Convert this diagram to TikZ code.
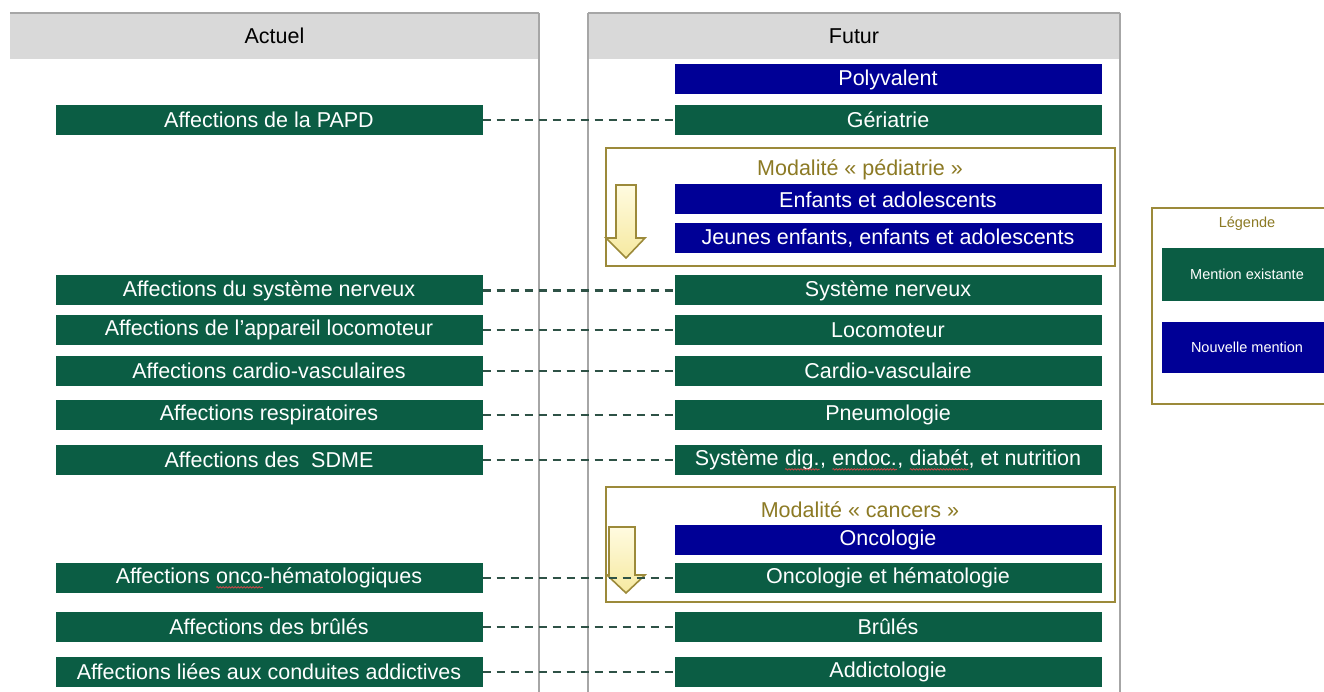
\documentclass[tikz,border=0pt]{standalone}
\usepackage{fontspec}
\setmainfont{Liberation Sans}
\usetikzlibrary{decorations.pathmorphing}
\definecolor{mgreen}{HTML}{0B5D44}
\definecolor{mblue}{HTML}{000096}
\definecolor{hgray}{HTML}{D9D9D9}
\definecolor{lgray}{HTML}{A6A6A6}
\definecolor{modolive}{HTML}{9C8A3A}
\definecolor{modtext}{HTML}{8C7A24}
\definecolor{dashc}{HTML}{2E5246}
\definecolor{arrtop}{HTML}{FFFBE0}
\definecolor{arrbot}{HTML}{F6E9A0}
\definecolor{squigc}{HTML}{C84848}
\newcommand\squig[1]{\tikz[baseline=(w.base)]{\node[inner sep=0pt,outer sep=0pt,minimum width=0pt,minimum height=0pt,fill=none,draw=none,text=white] (w) {#1};\draw[squigc,line width=0.8pt,decorate,decoration={snake,amplitude=0.7pt,segment length=3pt}] ([yshift=-4pt]w.base west) -- ([yshift=-4pt]w.base east);}}
\tikzset{
  mbox/.style={minimum width=427pt,minimum height=30pt,inner sep=0pt,outer sep=0pt,text=white,font=\fontsize{21.5}{24}\selectfont},
  gbox/.style={mbox,fill=mgreen},
  bbox/.style={mbox,fill=mblue},
  header/.style={fill=hgray,minimum height=46pt,inner sep=0pt,outer sep=0pt,font=\fontsize{21.5}{24}\selectfont,text=black},
  vline/.style={lgray,line width=1.5pt},
  modframe/.style={draw=modolive,line width=2pt},
  modlabel/.style={text=modtext,font=\fontsize{21.5}{24}\selectfont,inner sep=0pt},
  downarrow/.style={draw=modolive,line width=1.6pt,top color=arrtop,bottom color=arrbot,line join=miter},
  link/.style={dashc,line width=2.4pt,dash pattern=on 8pt off 6pt},
  legtext/.style={font=\fontsize{14.5}{17}\selectfont,text=white,inner sep=0pt},
}
\begin{document}
\begin{tikzpicture}[x=1pt,y=-1pt]
\useasboundingbox (0,0) rectangle (1324,692);
\clip (0,0) rectangle (1324,692);
\fill[white] (0,0) rectangle (1324,692);
% headers
\node[header,minimum width=529pt] (hA) at (274.5,36) {Actuel};
\node[header,minimum width=532pt] (hF) at (854,36) {Futur};
\draw[lgray,line width=1.5pt] (hA.north west) -- (hA.north east);
\draw[lgray,line width=1.5pt] (hF.north west) -- (hF.north east);
\draw[vline] (hA.north east) -- (539,692);
\draw[vline] (hF.north west) -- (588,692);
\draw[vline] (hF.north east) -- (1120,692);
% modality frames
\draw[modframe] (606,148) rectangle (1115,266);
\draw[modframe] (606,487) rectangle (1115,602);
\node[modlabel] (mp) at (860,170) {Modalité « pédiatrie »};
\node[modlabel] (mc) at (860,510) {Modalité « cancers »};
% arrows
\draw[downarrow] (616,185) -- (636,185) -- (636,238) -- (645,238) -- (626,258) -- (606,238) -- (616,238) -- cycle;
\draw[downarrow] (609,527) -- (635,527) -- (635,575) -- (645,575) -- (626,593) -- (607,575) -- (609,575) -- cycle;
% left boxes
\node[gbox] (L1) at (269,120) {Affections de la PAPD};
\node[gbox] (L2) at (269,290.5) {Affections du système nerveux};
\node[gbox] (L3) at (269,330) {Affections de l’appareil locomoteur};
\node[gbox] (L4) at (269,371) {Affections cardio-vasculaires};
\node[gbox] (L5) at (269,415) {Affections respiratoires};
\node[gbox] (L6) at (269,460) {Affections des~ SDME};
\node[gbox] (L7) at (269,578) {Affections \squig{onco}-hématologiques};
\node[gbox] (L8) at (269,627) {Affections des brûlés};
\node[gbox] (L9) at (269,672) {Affections liées aux conduites addictives};
% right boxes
\node[bbox] (R0) at (888,79.5) {Polyvalent};
\node[gbox] (R1) at (888,120) {Gériatrie};
\node[bbox] (Ra) at (888,199.5) {Enfants et adolescents};
\node[bbox] (Rb) at (888,238.5) {Jeunes enfants, enfants et adolescents};
\node[gbox] (R2) at (888,290.5) {Système nerveux};
\node[gbox] (R3) at (888,330) {Locomoteur};
\node[gbox] (R4) at (888,371) {Cardio-vasculaire};
\node[gbox] (R5) at (888,415) {Pneumologie};
\node[gbox] (R6) at (888,460) {Système \squig{dig.}, \squig{endoc.}, \squig{diabét}, et nutrition};
\node[bbox] (Rc) at (888,540) {Oncologie};
\node[gbox] (R7) at (888,578) {Oncologie et hématologie};
\node[gbox] (R8) at (888,627) {Brûlés};
\node[gbox] (R9) at (888,672) {Addictologie};
% links
\foreach \i in {1,...,9}{\draw[link] (L\i.east) -- (R\i.west);}
% legend
\draw[modolive,line width=1.5pt] (1152,208) rectangle (1345,404);
\node[legtext,text=modtext] (lg) at (1247,224) {Légende};
\node[fill=mgreen,minimum width=170pt,minimum height=53pt,inner sep=0pt] (lgg) at (1247,274.5) {};
\node[legtext] (lgt1) at (lgg.center) {Mention existante};
\node[fill=mblue,minimum width=170pt,minimum height=51pt,inner sep=0pt] (lgb) at (1247,347.5) {};
\node[legtext] (lgt2) at (lgb.center) {Nouvelle mention};
\end{tikzpicture}
\end{document}
